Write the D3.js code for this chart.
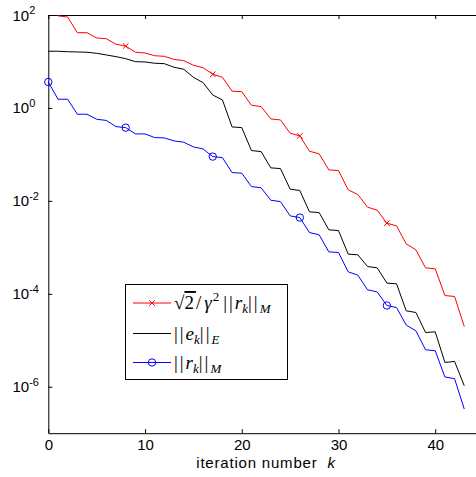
<!DOCTYPE html>
<html><head><meta charset="utf-8">
<script src="https://cdn.jsdelivr.net/npm/d3@7"></script>
<style>body{margin:0;background:#fff} svg{display:block}</style>
</head><body>
<script>
// iteration numbers k
const iterations = [0,1,2,3,4,5,6,7,8,9,10,11,12,13,14,15,16,17,18,19,20,21,22,23,24,25,26,27,28,29,30,31,32,33,34,35,36,37,38,39,40,41,42,43];
// sqrt(2)/gamma^2 ||r_k||_M  (red)
const scaledResidual = [205,95.7,90.6,41.6,41.6,32.0,30.9,23.4,21.5,15.8,15.2,13.3,12.9,11.1,10.4,8.28,7.36,5.31,4.57,2.29,2.24,1.14,1.07,0.580,0.552,0.286,0.250,0.117,0.103,0.0464,0.0449,0.0173,0.0137,0.00732,0.00631,0.00331,0.00290,0.00119,0.000883,0.000362,0.000345,9.18e-5,8.75e-5,1.98e-5];
// ||e_k||_E  (black)
const errorEnergy = [16.6,16.6,16.2,16.0,15.8,15.0,13.8,12.7,11.5,9.9,9.76,9.15,8.97,7.50,6.80,4.57,3.50,1.90,1.49,0.390,0.377,0.121,0.115,0.0513,0.0495,0.0179,0.0167,0.00580,0.00560,0.00238,0.00230,0.000714,0.000690,0.000386,0.000362,0.000170,0.000164,4.31e-5,3.96e-5,1.47e-5,1.52e-5,3.33e-6,3.50e-6,1.05e-6];
// ||r_k||_M  (blue)
const residualM = [3.62,1.54,1.54,0.732,0.732,0.571,0.538,0.396,0.377,0.276,0.276,0.230,0.226,0.195,0.183,0.145,0.131,0.0897,0.0853,0.0406,0.0394,0.0203,0.0191,0.0103,0.00966,0.00475,0.00437,0.00208,0.00186,0.000800,0.000773,0.000297,0.000252,0.000122,0.000110,5.60e-5,5.07e-5,2.12e-5,1.60e-5,6.25e-6,5.94e-6,1.62e-6,1.49e-6,3.31e-7];
const markerIdx = [0,8,17,26,35];
const xTicks = [0,10,20,30,40];
const yTicks = [1e2,1e0,1e-2,1e-4,1e-6];
const yTickExps = ["2","0","-2","-4","-6"];

const W = 476, H = 477;
const x = d3.scaleLinear().domain([0,45]).range([48.3,483.6]);
const y = d3.scaleLog().domain([1e-7,1e2]).range([433.2,15]);
const sans = "'Liberation Sans', Arial, sans-serif";

const svg = d3.select("body").append("svg").attr("width",W).attr("height",H)
  .style("font-family",sans);

svg.append("defs").append("clipPath").attr("id","clip")
  .append("rect").attr("x",0).attr("y",y(1e2)).attr("width",W).attr("height",y(1e-7)-y(1e2));

// axes
const gx = svg.append("g").attr("transform",`translate(0,${y(1e-7)})`)
  .call(d3.axisBottom(x).tickValues(xTicks).tickSizeInner(-4).tickSizeOuter(0).tickPadding(6));
const gxt = svg.append("g").attr("transform",`translate(0,${y(1e2)})`)
  .call(d3.axisTop(x).tickValues(xTicks).tickSizeInner(-4).tickSizeOuter(0).tickFormat(""));
const gy = svg.append("g").attr("transform",`translate(${x(0)},0)`)
  .call(d3.axisLeft(y).tickValues(yTicks).tickSizeInner(-4).tickSizeOuter(0).tickFormat(""));
const gyr = svg.append("g").attr("transform",`translate(${x(45)},0)`)
  .call(d3.axisRight(y).tickValues(yTicks).tickSizeInner(-4).tickSizeOuter(0).tickFormat(""));
[gx,gxt,gy,gyr].forEach(g=>{
  g.selectAll("path,line").attr("stroke","#000").attr("stroke-width",1);
  g.selectAll("text").attr("fill","#000").style("font-size","15px").style("font-family",sans);
});
// y tick labels 10^n
yTicks.forEach((v,i)=>{
  const t = svg.append("text").attr("y",y(v)+5.5)
    .style("font-size","15px").attr("fill","#000");
  t.append("tspan").attr("x",12.5).text("10");
  t.append("tspan").attr("dy",-6.5).style("font-size","11px").text(yTickExps[i]);
});
// x label
const xl = svg.append("text").attr("x",266).attr("y",468).attr("text-anchor","middle")
  .style("font-size","15px").style("letter-spacing","0.8px").attr("fill","#000");
xl.append("tspan").text("iteration number\u00A0\u00A0");
xl.append("tspan").style("font-style","italic").text("k");

// series
const series = [
  {vals: scaledResidual, color:"#ff0000", marker:"x"},
  {vals: errorEnergy, color:"#000000", marker:null},
  {vals: residualM, color:"#0000ff", marker:"o"}
];
const line = d3.line().x((d,i)=>x(iterations[i])).y(d=>y(d));
const plot = svg.append("g").attr("clip-path","url(#clip)");
function drawMarker(g, type, cx, cy, color){
  if(type==="x"){
    const s=2.8;
    g.append("path").attr("d",`M${cx-s},${cy-s}L${cx+s},${cy+s}M${cx-s},${cy+s}L${cx+s},${cy-s}`)
      .attr("stroke",color).attr("stroke-width",1).attr("fill","none");
  } else if(type==="o"){
    g.append("circle").attr("cx",cx).attr("cy",cy).attr("r",3.7)
      .attr("stroke",color).attr("stroke-width",1).attr("fill","none");
  }
}
series.forEach(s=>{
  plot.append("path").datum(s.vals).attr("d",line).attr("fill","none")
    .attr("stroke",s.color).attr("stroke-width",1);
  if(s.marker){
    markerIdx.forEach(i=>{
      if(s.vals[i] <= 1e2) drawMarker(svg, s.marker, x(iterations[i]), y(s.vals[i]), s.color);
    });
  }
});

// legend
const lg = svg.append("g");
lg.append("rect").attr("x",125.5).attr("y",284.5).attr("width",162).attr("height",95)
  .attr("fill","#fff").attr("stroke","#000").attr("stroke-width",1);
const rowsY = [303,333.5,362.5];
const serif = "'Liberation Serif','DejaVu Serif',serif";
series.forEach((s,i)=>{
  lg.append("line").attr("x1",133).attr("x2",171).attr("y1",rowsY[i]).attr("y2",rowsY[i])
    .attr("stroke",s.color).attr("stroke-width",1);
  if(s.marker) drawMarker(lg, s.marker, 152, rowsY[i], s.color);
});
function mathText(yy, parts){
  const t = lg.append("text").attr("x",174).attr("y",yy+6).style("font-family",serif)
    .style("font-size","19px").attr("fill","#000");
  parts.forEach(p=>{
    const ts = t.append("tspan").text(p.t);
    if(p.it) ts.style("font-style","italic");
    if(p.sz) ts.style("font-size",p.sz+"px");
    if(p.dy) ts.attr("dy",p.dy);
    if(p.ov) ts.style("text-decoration","overline");
    if(p.ls) ts.style("letter-spacing",p.ls+"px");
  });
  return t;
}
mathText(rowsY[0], [
  {t:"\u221A"},{t:"2",ov:true,ls:2},{t:"/",ls:3},{t:"\u03B3",it:true,ls:1},{t:"2",sz:13,dy:-8,ls:4},
  {t:"||",dy:8,ls:2},{t:"r",it:true},{t:"k",it:true,sz:13,dy:4},{t:"||",dy:-4,ls:2},{t:"M",it:true,sz:13,dy:4}
]);
mathText(rowsY[1], [
  {t:"||",ls:2},{t:"e",it:true},{t:"k",it:true,sz:13,dy:4},{t:"||",dy:-4,ls:2},{t:"E",it:true,sz:13,dy:4}
]);
mathText(rowsY[2], [
  {t:"||",ls:2},{t:"r",it:true},{t:"k",it:true,sz:13,dy:4},{t:"||",dy:-4,ls:2},{t:"M",it:true,sz:13,dy:4}
]);
</script>
</body></html>
